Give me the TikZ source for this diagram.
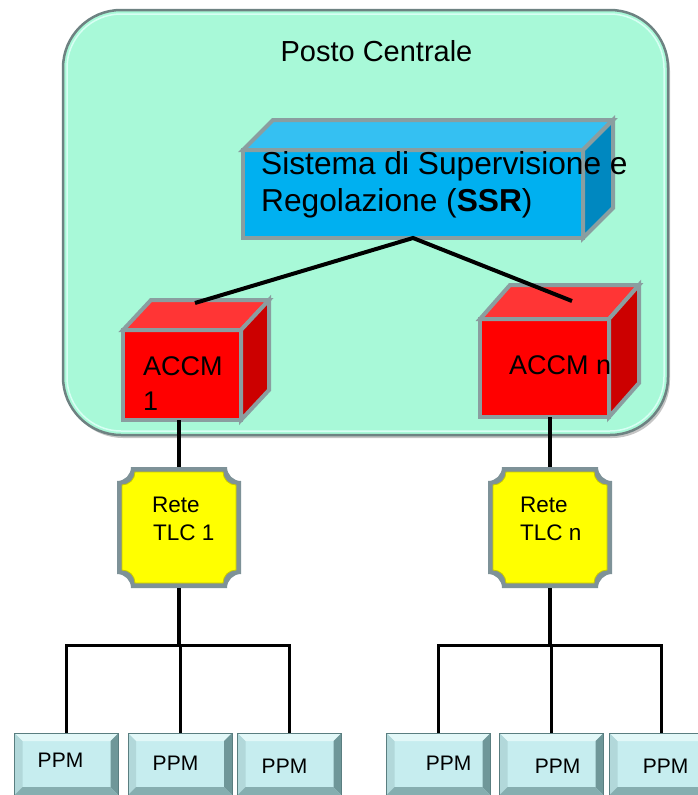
\documentclass[tikz,border=0pt]{standalone}
\usepackage{fontspec}
\setmainfont{Liberation Sans}
\usetikzlibrary{calc,shadows}
\definecolor{mint}{HTML}{A8F9D8}
\definecolor{mintedge}{HTML}{6E8282}
\definecolor{minthi}{HTML}{D8FFF4}
\definecolor{cubeline}{HTML}{8A9EA0}
\definecolor{ssrfront}{HTML}{00B0F0}
\definecolor{ssrtop}{HTML}{35C0F2}
\definecolor{ssrside}{HTML}{0088C0}
\definecolor{redfront}{HTML}{FF0000}
\definecolor{redtop}{HTML}{FF3535}
\definecolor{redside}{HTML}{CC0000}
\definecolor{retegray}{HTML}{7E9298}
\definecolor{reteyellow}{HTML}{FFFF00}
\definecolor{reteedge}{HTML}{C9C900}
\definecolor{ppmface}{HTML}{C6EDEF}
\definecolor{ppmtop}{HTML}{E2F8F8}
\definecolor{ppmleft}{HTML}{B2D8DA}
\definecolor{ppmright}{HTML}{6F9799}
\definecolor{ppmbot}{HTML}{86AEB0}
\definecolor{ppmline}{HTML}{5A7E80}
\tikzset{
  postobox/.style={rectangle, rounded corners=58pt, fill=mint, draw=mintedge, line width=2.5pt,
    minimum width=605pt, minimum height=425pt, outer sep=0pt,
    drop shadow={shadow xshift=2pt, shadow yshift=-3pt, opacity=0.45}},
  cubefront/.style={rectangle, draw=cubeline, line width=4pt, outer sep=0pt, inner sep=0pt},
  cubeedge/.style={draw=cubeline, line width=4pt},
  retenode/.style={rectangle, minimum width=124pt, minimum height=121pt, outer sep=0pt, inner sep=0pt},
  ppmbox/.style={rectangle, fill=ppmface, minimum width=104pt, minimum height=62pt, outer sep=0pt, inner sep=0pt},
  conn/.style={draw=black, line width=4pt},
  bigtext/.style={font=\fontsize{31.7}{38}\selectfont, inner sep=0pt},
  titletext/.style={font=\fontsize{29}{35}\selectfont, inner sep=0pt},
  accmtext/.style={font=\fontsize{27}{32}\selectfont, inner sep=0pt},
  retetext/.style={font=\fontsize{22.5}{26}\selectfont, inner sep=0pt},
  ppmtext/.style={font=\fontsize{21}{25}\selectfont, inner sep=0pt},
}
\newcommand\cubefaces[5]{%
  \filldraw[cubeedge, fill=#4] (#1.north west) -- ++(#2,-#3) -- ($(#1.north east)+(#2,-#3)$) -- (#1.north east) -- cycle;
  \filldraw[cubeedge, fill=#5] (#1.north east) -- ++(#2,-#3) -- ($(#1.south east)+(#2,-#3)$) -- (#1.south east) -- cycle;}
\newcommand\retepath[3]{%
  ($(#1.north west)+(#2+#3,#2)$) -- ($(#1.north east)+(-#2-#3,#2)$)
  arc[start angle=180, end angle=270, radius=#3pt]
  -- ($(#1.south east)+(-#2,-#2-#3)$)
  arc[start angle=90, end angle=180, radius=#3pt]
  -- ($(#1.south west)+(#2+#3,-#2)$)
  arc[start angle=0, end angle=90, radius=#3pt]
  -- ($(#1.north west)+(#2,#2+#3)$)
  arc[start angle=270, end angle=360, radius=#3pt] -- cycle}
\newcommand\ppmbevel[1]{%
  \fill[ppmtop] (#1.north west) -- (#1.north east) -- ($(#1.north east)+(-8,8)$) -- ($(#1.north west)+(8,8)$) -- cycle;
  \fill[ppmleft] (#1.north west) -- ($(#1.north west)+(8,8)$) -- ($(#1.south west)+(8,-8)$) -- (#1.south west) -- cycle;
  \fill[ppmright] (#1.north east) -- (#1.south east) -- ($(#1.south east)+(-8,-8)$) -- ($(#1.north east)+(-8,8)$) -- cycle;
  \fill[ppmbot] (#1.south west) -- ($(#1.south west)+(8,-8)$) -- ($(#1.south east)+(-8,-8)$) -- (#1.south east) -- cycle;
  \draw[ppmline, line width=1pt] (#1.north west) rectangle (#1.south east);}
\begin{document}
\begin{tikzpicture}[x=1pt, y=-1pt]
\useasboundingbox (0,0) rectangle (698,795);
\clip (0,0) rectangle (698,795);
\fill[white] (0,0) rectangle (698,795);

% container
\node[postobox] (posto) at (365.5,222.5) {};
\draw[minthi, line width=1.5pt, rounded corners=54pt] ($(posto.north west)+(4,4)$) rectangle ($(posto.south east)+(-4,-4)$);
\node[titletext, anchor=base] (title) at (376.5,61) {Posto Centrale};

% SSR cube
\node[cubefront, fill=ssrfront, minimum width=340pt, minimum height=88pt] (ssr) at (413,194) {};
\cubefaces{ssr}{30}{30}{ssrtop}{ssrside}
\node[bigtext, anchor=base west] (ssrt1) at (261,174) {Sistema di Supervisione e};
\node[bigtext, anchor=base west] (ssrt2) at (261,211) {Regolazione (\textbf{SSR})};

% ACCM cubes
\node[cubefront, fill=redfront, minimum width=118pt, minimum height=90pt] (accm1) at (182,375) {};
\cubefaces{accm1}{28}{30}{redtop}{redside}
\node[accmtext, anchor=base west] (accm1a) at (143,375) {ACCM};
\node[accmtext, anchor=base west] (accm1b) at (143,410) {1};

\node[cubefront, fill=redfront, minimum width=129pt, minimum height=98pt] (accmn) at (544.5,368) {};
\cubefaces{accmn}{30}{34}{redtop}{redside}
\node[accmtext, anchor=base west] (accmna) at (509,374) {ACCM n};

% SSR to ACCM connectors
\coordinate (a1top) at (195,303);
\coordinate (antop) at (572,301);
\draw[conn] (a1top) -- (ssr.south) -- (antop);

% Rete nodes
\node[retenode] (rete1) at (179,527.5) {};
\node[retenode] (reten) at (550,527.5) {};
\fill[retegray] \retepath{rete1}{0}{14};
\filldraw[fill=reteyellow, draw=reteedge, line width=0.8pt] \retepath{rete1}{5}{13};
\fill[retegray] \retepath{reten}{0}{14};
\filldraw[fill=reteyellow, draw=reteedge, line width=0.8pt] \retepath{reten}{5}{13};
\node[retetext, anchor=base west] (r1a) at (152,512) {Rete};
\node[retetext, anchor=base west] (r1b) at (153,540) {TLC 1};
\node[retetext, anchor=base west] (rna) at (520,512) {Rete};
\node[retetext, anchor=base west] (rnb) at (520,540) {TLC n};

\draw[conn] (accm1.south -| rete1) -- (rete1.north);
\draw[conn] (accmn.south -| reten) -- (reten.north);

% PPM boxes
\node[ppmbox] (ppm1) at (66.5,764) {};
\node[ppmbox] (ppm2) at (180,764) {};
\node[ppmbox] (ppm3) at (289.5,764) {};
\node[ppmbox] (ppm4) at (438.5,764) {};
\node[ppmbox] (ppm5) at (551.5,764) {};
\node[ppmbox] (ppm6) at (661.5,764) {};
\ppmbevel{ppm1}\ppmbevel{ppm2}\ppmbevel{ppm3}\ppmbevel{ppm4}\ppmbevel{ppm5}\ppmbevel{ppm6}
\node[ppmtext, anchor=base] (t1) at (60.5,767) {PPM};
\node[ppmtext, anchor=base] (t2) at (175.5,770) {PPM};
\node[ppmtext, anchor=base] (t3) at (284.5,773) {PPM};
\node[ppmtext, anchor=base] (t4) at (448.5,770) {PPM};
\node[ppmtext, anchor=base] (t5) at (557.5,773) {PPM};
\node[ppmtext, anchor=base] (t6) at (665.5,773) {PPM};

% buses
\coordinate (bus1) at (179,645);
\coordinate (busn) at (550,645);
\draw[conn] (rete1.south) -- (bus1);
\draw[conn] (reten.south) -- (busn);
\draw[conn, line width=3pt] (ppm1.north) -- (ppm1.north |- bus1) -- (ppm3.north |- bus1) -- (ppm3.north);
\draw[conn, line width=3pt] (ppm2.north) -- (ppm2.north |- bus1);
\draw[conn, line width=3pt] (ppm4.north) -- (ppm4.north |- busn) -- (ppm6.north |- busn) -- (ppm6.north);
\draw[conn, line width=3pt] (ppm5.north) -- (ppm5.north |- busn);
\end{tikzpicture}
\end{document}
